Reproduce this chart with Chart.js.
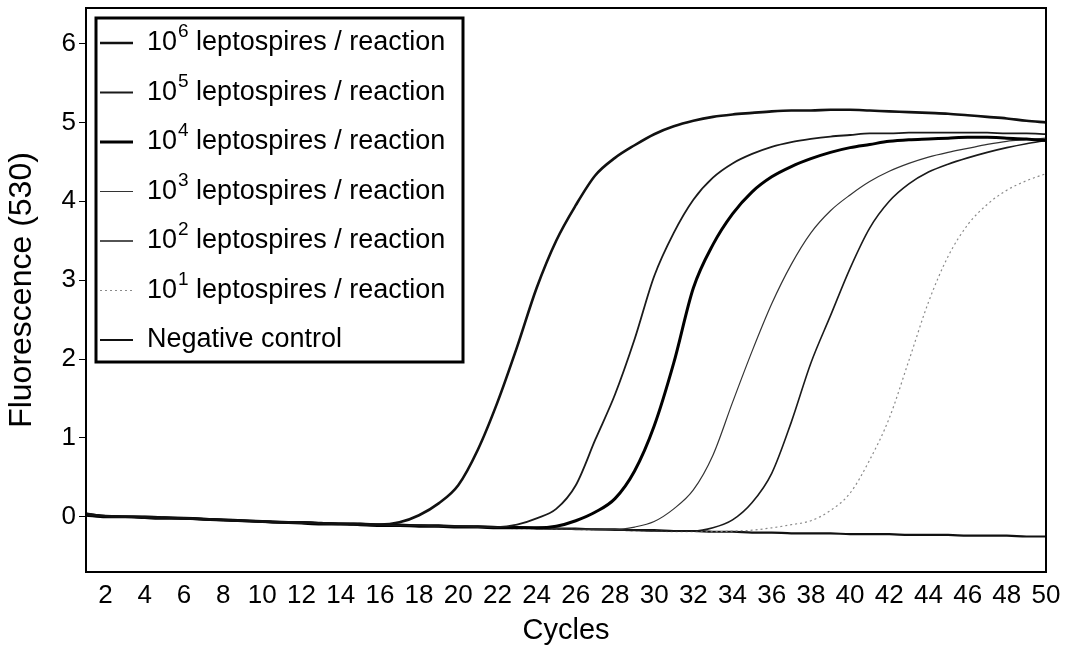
<!DOCTYPE html>
<html>
<head>
<meta charset="utf-8">
<script src="https://cdn.jsdelivr.net/npm/chart.js@4/dist/chart.umd.min.js"></script>
<style>
    body { margin: 0; background: #fff; }
    #chart { display: block; }
</style>
</head>
<body>
<canvas id="chart" width="1069" height="652"></canvas>
<script>
// Chart data
const cycles = [1, 2, 3, 4, 5, 6, 7, 8, 9, 10, 11, 12, 13, 14, 15, 16, 17, 18, 19, 20,
    21, 22, 23, 24, 25, 26, 27, 28, 29, 30, 31, 32, 33, 34, 35, 36, 37, 38, 39, 40,
    41, 42, 43, 44, 45, 46, 47, 48, 49, 50];
const xTicks = [2, 4, 6, 8, 10, 12, 14, 16, 18, 20, 22, 24, 26, 28, 30, 32, 34, 36, 38, 40, 42, 44, 46, 48, 50];
const yTicks = [0, 1, 2, 3, 4, 5, 6];

const fluor1e6 = [0.03, 0.01, 0.00, 0.00, -0.01, -0.02, -0.03, -0.04, -0.05, -0.06,
    -0.07, -0.07, -0.08, -0.09, -0.09, -0.10, -0.07, 0.02, 0.17, 0.40,
    0.85, 1.45, 2.15, 2.90, 3.50, 3.95, 4.33, 4.55, 4.71, 4.85,
    4.95, 5.02, 5.07, 5.10, 5.12, 5.14, 5.15, 5.15, 5.16, 5.16,
    5.15, 5.14, 5.13, 5.12, 5.11, 5.09, 5.07, 5.05, 5.02, 5.00];
const fluor1e5 = [0.04, 0.01, 0.00, -0.01, -0.01, -0.02, -0.03, -0.04, -0.05, -0.06,
    -0.07, -0.08, -0.08, -0.09, -0.10, -0.10, -0.11, -0.11, -0.12, -0.12,
    -0.13, -0.13, -0.10, -0.02, 0.10, 0.40, 0.98, 1.55, 2.25, 3.05,
    3.60, 4.02, 4.30, 4.48, 4.60, 4.69, 4.75, 4.79, 4.82, 4.84,
    4.86, 4.86, 4.87, 4.87, 4.87, 4.87, 4.87, 4.86, 4.86, 4.85];
const fluor1e4 = [0.02, 0.00, 0.00, -0.01, -0.02, -0.02, -0.03, -0.04, -0.05, -0.06,
    -0.07, -0.08, -0.09, -0.09, -0.10, -0.11, -0.11, -0.12, -0.12, -0.13,
    -0.13, -0.14, -0.14, -0.14, -0.12, -0.05, 0.06, 0.23, 0.58, 1.15,
    1.95, 2.90, 3.45, 3.84, 4.12, 4.31, 4.44, 4.54, 4.62, 4.68,
    4.72, 4.76, 4.78, 4.79, 4.80, 4.81, 4.81, 4.80, 4.79, 4.77];
const fluor1e3 = [0.05, 0.01, 0.00, -0.01, -0.01, -0.02, -0.03, -0.04, -0.05, -0.06,
    -0.07, -0.08, -0.09, -0.09, -0.10, -0.11, -0.11, -0.12, -0.12, -0.13,
    -0.13, -0.14, -0.14, -0.15, -0.15, -0.16, -0.16, -0.16, -0.13, -0.06,
    0.10, 0.34, 0.78, 1.45, 2.10, 2.70, 3.20, 3.60, 3.88, 4.08,
    4.25, 4.38, 4.48, 4.56, 4.62, 4.67, 4.72, 4.76, 4.78, 4.80];
const fluor1e2 = [0.02, 0.01, 0.00, 0.00, -0.01, -0.02, -0.03, -0.04, -0.05, -0.06,
    -0.07, -0.07, -0.08, -0.09, -0.10, -0.10, -0.11, -0.11, -0.12, -0.13,
    -0.13, -0.14, -0.14, -0.15, -0.15, -0.16, -0.16, -0.17, -0.17, -0.18,
    -0.18, -0.18, -0.14, -0.04, 0.18, 0.55, 1.20, 1.95, 2.55, 3.15,
    3.66, 4.00, 4.22, 4.37, 4.47, 4.55, 4.62, 4.68, 4.73, 4.77];
const fluor1e1 = [0.03, 0.01, 0.00, 0.00, -0.01, -0.02, -0.03, -0.04, -0.05, -0.06,
    -0.07, -0.08, -0.08, -0.09, -0.10, -0.10, -0.11, -0.12, -0.12, -0.13,
    -0.13, -0.14, -0.15, -0.15, -0.16, -0.16, -0.17, -0.17, -0.18, -0.18,
    -0.19, -0.19, -0.19, -0.18, -0.17, -0.14, -0.10, -0.05, 0.08, 0.30,
    0.72, 1.25, 1.98, 2.72, 3.30, 3.70, 3.96, 4.14, 4.26, 4.35];
const fluorNeg = [0.03, 0.01, 0.00, 0.00, -0.01, -0.02, -0.03, -0.04, -0.05, -0.06,
    -0.07, -0.07, -0.08, -0.09, -0.09, -0.10, -0.10, -0.11, -0.11, -0.12,
    -0.12, -0.13, -0.13, -0.14, -0.15, -0.15, -0.16, -0.16, -0.17, -0.17,
    -0.18, -0.18, -0.19, -0.19, -0.20, -0.20, -0.21, -0.21, -0.21, -0.22,
    -0.22, -0.22, -0.23, -0.23, -0.23, -0.24, -0.24, -0.24, -0.25, -0.25];

const exponents = ['6', '5', '4', '3', '2', '1'];
const seriesSuffix = ' leptospires / reaction';
const controlLabel = 'Negative control';

const FONT = '"Liberation Sans", Arial, sans-serif';

const toPoints = vals => cycles.map((c, i) => ({ x: c, y: vals[i] }));

const series = [
    { vals: fluor1e6, color: '#111', width: 2.6 },
    { vals: fluor1e5, color: '#1a1a1a', width: 1.8 },
    { vals: fluor1e4, color: '#000', width: 3 },
    { vals: fluor1e3, color: '#333', width: 1.2 },
    { vals: fluor1e2, color: '#1a1a1a', width: 1.6 },
    { vals: fluor1e1, color: '#8a8a8a', width: 1.2, dash: [2, 3] },
    { vals: fluorNeg, color: '#111', width: 2.2 }
];

const datasets = series.map((s, i) => ({
    label: i < exponents.length ? '10' + exponents[i] + seriesSuffix : controlLabel,
    data: toPoints(s.vals),
    borderColor: s.color,
    borderWidth: s.width,
    borderDash: s.dash || [],
    cubicInterpolationMode: 'monotone',
    pointRadius: 0,
    fill: false
}));

// white background + frame round the plot
const framePlugin = {
    id: 'frame',
    beforeDraw(chart) {
        const c = chart.ctx;
        c.save();
        c.fillStyle = '#fff';
        c.fillRect(0, 0, chart.width, chart.height);
        c.restore();
    },
    afterDraw(chart) {
        const a = chart.chartArea;
        const c = chart.ctx;
        c.save();
        c.strokeStyle = '#000';
        c.lineWidth = 2;
        c.strokeRect(a.left, a.top, a.right - a.left, a.bottom - a.top);
        c.restore();
    }
};

// legend box inside the plot, with superscript exponents
const boxLegend = {
    id: 'boxLegend',
    afterDraw(chart) {
        const c = chart.ctx;
        const a = chart.chartArea;
        const x0 = a.left + 10, y0 = a.top + 10, w = 367, h = 344;
        c.save();
        c.fillStyle = '#fff';
        c.fillRect(x0, y0, w, h);
        c.strokeStyle = '#000';
        c.lineWidth = 3;
        c.strokeRect(x0, y0, w, h);
        c.textBaseline = 'middle';
        c.fillStyle = '#000';
        chart.data.datasets.forEach((ds, i) => {
            const y = y0 + 25 + i * 49.5;
            c.beginPath();
            c.strokeStyle = ds.borderColor;
            c.lineWidth = ds.borderWidth;
            c.setLineDash(ds.borderDash);
            c.moveTo(x0 + 4, y);
            c.lineTo(x0 + 37, y);
            c.stroke();
            c.setLineDash([]);
            let tx = x0 + 51;
            c.font = '27px ' + FONT;
            if (i < exponents.length) {
                c.fillText('10', tx, y);
                tx += c.measureText('10').width + 1;
                c.font = '19px ' + FONT;
                c.fillText(exponents[i], tx, y - 11);
                tx += c.measureText(exponents[i]).width;
                c.font = '27px ' + FONT;
                c.fillText(seriesSuffix, tx, y);
            } else {
                c.fillText(controlLabel, tx, y);
            }
        });
        c.restore();
    }
};

const ctx = document.getElementById('chart');
new Chart(ctx, {
    type: 'line',
    data: { datasets },
    options: {
        responsive: false,
        animation: false,
        layout: { padding: { top: 8, right: 23, left: 0, bottom: 0 } },
        plugins: {
            legend: { display: false },
            tooltip: { enabled: false }
        },
        scales: {
            x: {
                type: 'linear',
                min: 1,
                max: 50,
                afterBuildTicks: scale => { scale.ticks = xTicks.map(v => ({ value: v })); },
                afterFit: scale => { scale.height = 80; scale.paddingLeft = 0; scale.paddingRight = 0; },
                grid: { display: true, drawOnChartArea: false, drawTicks: false },
                border: { display: true, color: '#000', width: 2 },
                ticks: {
                    color: '#000',
                    padding: 8,
                    maxRotation: 0,
                    autoSkip: false,
                    font: { family: FONT, size: 26 }
                },
                title: {
                    display: true,
                    text: 'Cycles',
                    color: '#000',
                    font: { family: FONT, size: 29 },
                    padding: { top: 0, bottom: 4 }
                }
            },
            y: {
                type: 'linear',
                min: -0.7,
                max: 6.45,
                afterBuildTicks: scale => { scale.ticks = yTicks.map(v => ({ value: v })); },
                afterFit: scale => { scale.width = 86; scale.paddingTop = 0; scale.paddingBottom = 0; },
                grid: { display: true, drawOnChartArea: false, drawTicks: true, tickLength: 7, color: '#000', lineWidth: 1 },
                border: { display: true, color: '#000', width: 2 },
                ticks: {
                    color: '#000',
                    padding: 3,
                    font: { family: FONT, size: 26 }
                },
                title: {
                    display: true,
                    text: 'Fluorescence (530)',
                    color: '#000',
                    font: { family: FONT, size: 32 },
                    padding: { top: 3, bottom: 0 }
                }
            }
        }
    },
    plugins: [framePlugin, boxLegend]
});
</script>
</body>
</html>
